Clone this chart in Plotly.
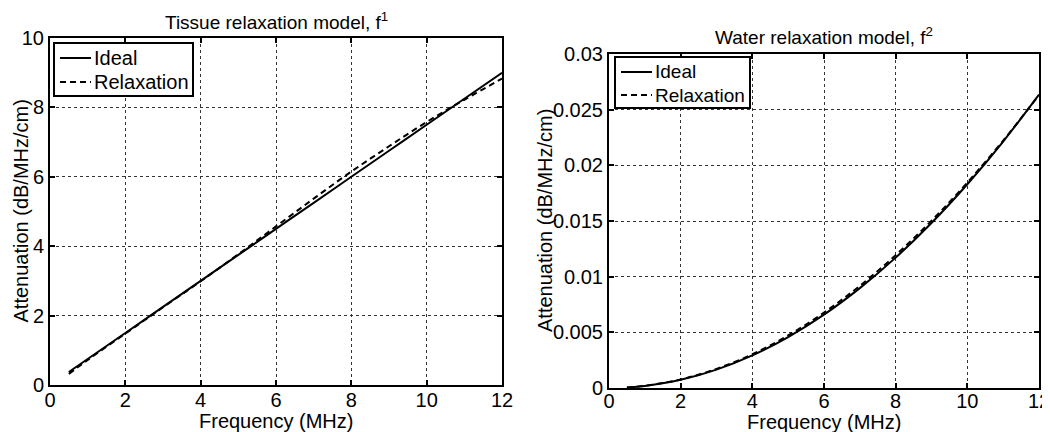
import plotly.graph_objects as go

freq = [0.5, 1, 2, 3, 4, 5, 6, 7, 8, 9, 10, 11, 12]
tissue_ideal = [0.375, 0.75, 1.5, 2.25, 3.0, 3.75, 4.5, 5.25, 6.0, 6.75, 7.5, 8.25, 9.0]
tissue_relax = [0.32, 0.72, 1.48, 2.24, 2.99, 3.77, 4.57, 5.37, 6.15, 6.88, 7.58, 8.22, 8.83]
water_ideal = [0.0000458, 0.000183, 0.000732, 0.00165, 0.00293, 0.00458, 0.00659,
               0.00897, 0.01171, 0.01482, 0.0183, 0.02214, 0.02635]
water_relax = [0.00005, 0.0002, 0.00077, 0.00172, 0.00303, 0.00472, 0.00677,
               0.00918, 0.01193, 0.01502, 0.01845, 0.02222, 0.02632]
series_names = ["Ideal", "Relaxation"]
titles = ["Tissue relaxation model, f<sup>1</sup>", "Water relaxation model, f<sup>2</sup>"]
x_title = "Frequency (MHz)"
y_title = "Attenuation (dB/MHz/cm)"

FONT = "Liberation Sans, Arial, sans-serif"
W, H, OFF = 1042, 424, 8  # page body margin offsets the figure by 8px


def px(x):
    return (x - OFF) / W


def py(y):
    return 1 - (y - OFF) / H


fig = go.Figure()
DASH = "6px,4px"


def add(x, y, name, dash, xa, ya):
    fig.add_trace(go.Scatter(x=x, y=y, name=name, mode="lines",
                             line=dict(color="black", width=2, dash=dash, shape="spline"),
                             xaxis=xa, yaxis=ya, showlegend=False))


add(freq, tissue_ideal, series_names[0], "solid", "x", "y")
add(freq, tissue_relax, series_names[1], DASH, "x", "y")
add(freq, water_ideal, series_names[0], "solid", "x2", "y2")
add(freq, water_relax, series_names[1], DASH, "x2", "y2")

axcommon = dict(showline=True, linecolor="black", linewidth=2, mirror="ticks",
                ticks="inside", ticklen=5, tickwidth=2, tickcolor="black",
                showgrid=True, gridcolor="#333", griddash="dot", gridwidth=1,
                zeroline=False, automargin=False, ticklabeloverflow="allow",
                tickfont=dict(family=FONT, size=20, color="black"))

L = dict(x0=50, x1=502, y0=38, y1=385)
R = dict(x0=609, x1=1039, y0=54, y1=388)

fig.update_layout(
    width=W, height=H,
    margin=dict(l=0, r=0, t=0, b=0, autoexpand=False),
    paper_bgcolor="white", plot_bgcolor="white",
    xaxis=dict(domain=[px(L["x0"]), px(L["x1"])], range=[0, 12], dtick=2, anchor="y",
               ticklabelstandoff=-4, **axcommon),
    yaxis=dict(domain=[py(L["y1"]), py(L["y0"])], range=[0, 10], dtick=2, anchor="x", **axcommon),
    xaxis2=dict(domain=[px(R["x0"]), px(R["x1"])], range=[0, 12], dtick=2, anchor="y2",
                ticklabelstandoff=-6, **axcommon),
    yaxis2=dict(domain=[py(R["y1"]), py(R["y0"])], range=[0, 0.03], dtick=0.005, anchor="x2",
                tickformat="~g", **axcommon),
    showlegend=False,
)


def text(t, x, y, size=20, angle=0, xanchor="center"):
    fig.add_annotation(text=t, x=px(x), y=py(y), xref="paper", yref="paper",
                       showarrow=False, textangle=angle, xanchor=xanchor, yanchor="middle",
                       font=dict(family=FONT, size=size, color="black"))


# titles
text(titles[0], (L["x0"] + L["x1"]) / 2, 21, size=19)
text(titles[1], (R["x0"] + R["x1"]) / 2, 36, size=19)
# axis titles
text(x_title, (L["x0"] + L["x1"]) / 2, 421)
text(x_title, (R["x0"] + R["x1"]) / 2, 422)
text(y_title, 20, (L["y0"] + L["y1"]) / 2, angle=-90)
text(y_title, 545, (R["y0"] + R["y1"]) / 2, angle=-90)


def legend(bx0, by0, bx1, by1, rows, size):
    fig.add_shape(type="rect", xref="paper", yref="paper",
                  x0=px(bx0), x1=px(bx1), y0=py(by1), y1=py(by0),
                  line=dict(color="black", width=2), fillcolor="white", layer="above")
    for (nm, dash), yy in zip(zip(series_names, ["solid", DASH]), rows):
        fig.add_shape(type="line", xref="paper", yref="paper",
                      x0=px(bx0 + 6), x1=px(bx0 + 37), y0=py(yy), y1=py(yy),
                      line=dict(color="black", width=2, dash=dash), layer="above")
        text(nm, bx0 + 38, yy, size=size, xanchor="left")


legend(54, 43, 193, 96, [58, 82], 20)
legend(615, 57, 750, 108, [72, 95], 19)

fig.write_html("out.html")
